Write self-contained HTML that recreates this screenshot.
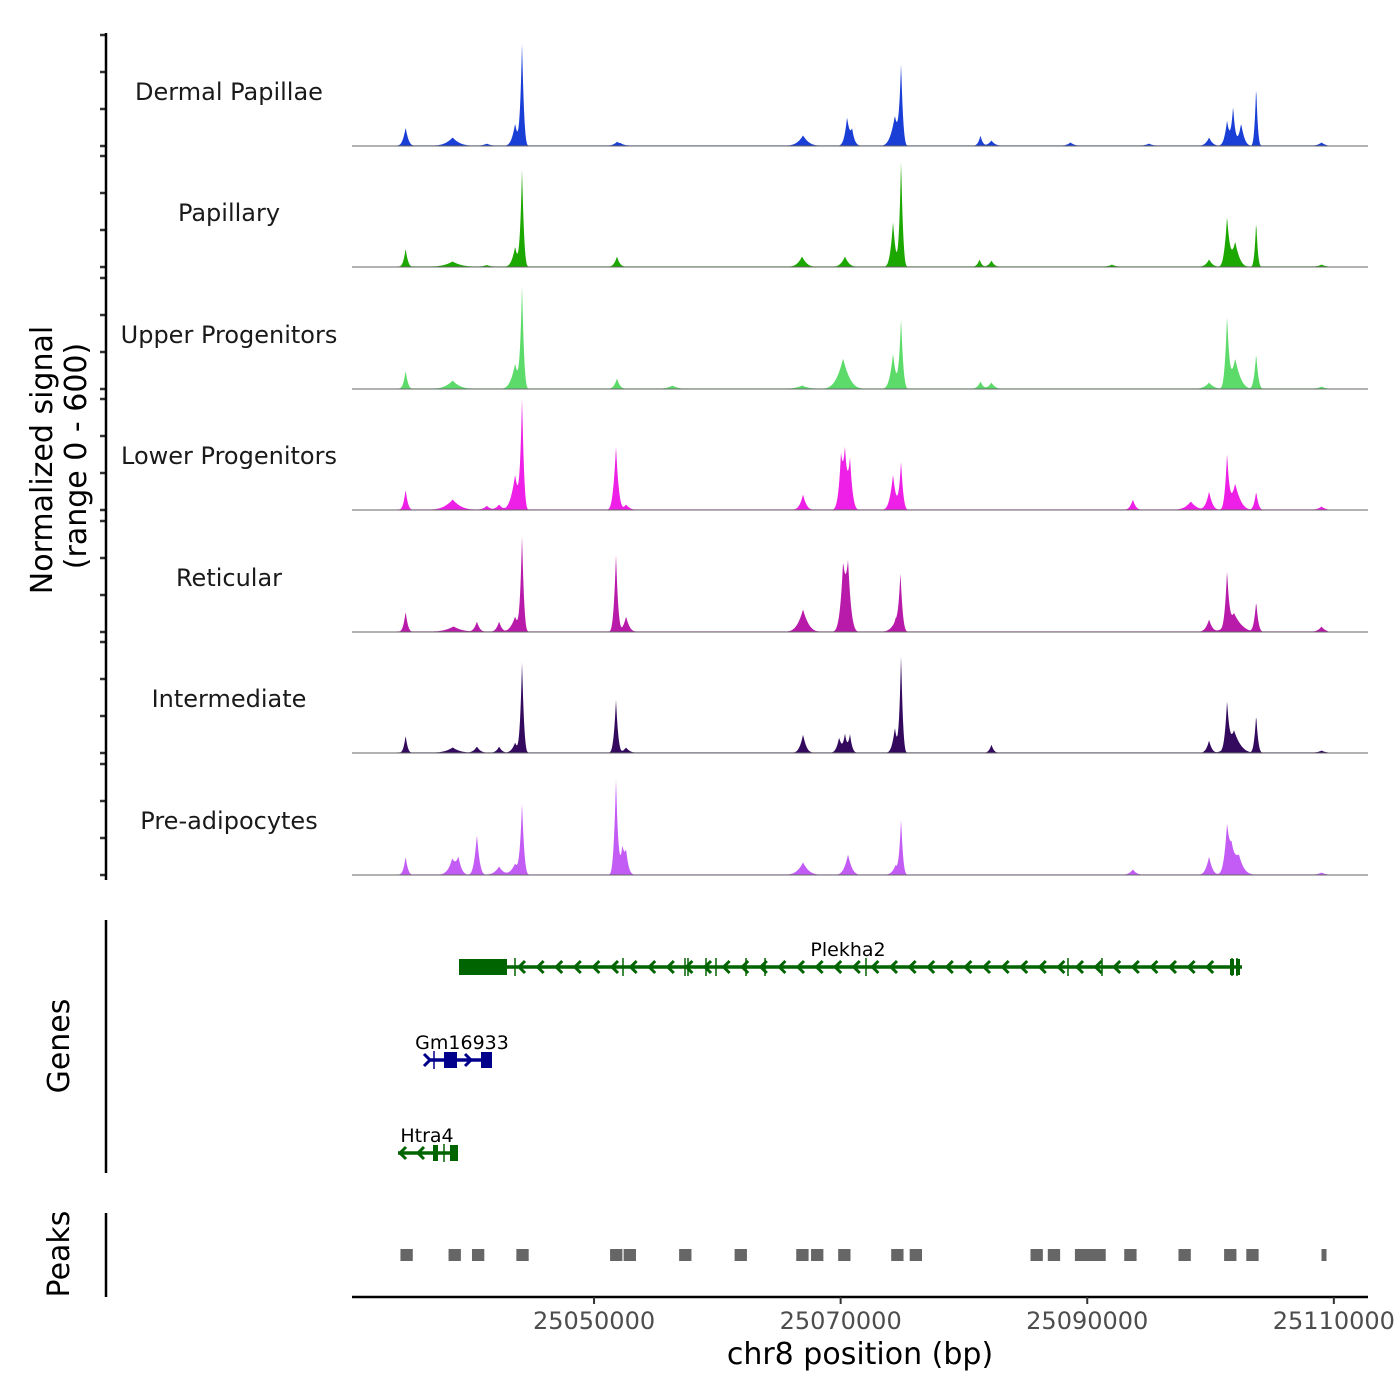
<!DOCTYPE html>
<html><head><meta charset="utf-8"><style>
body{margin:0;background:#fff}
svg{display:block;font-family:"DejaVu Sans","Liberation Sans",sans-serif}
</style></head><body>
<svg id="chart" width="1400" height="1400" viewBox="0 0 1400 1400" xmlns="http://www.w3.org/2000/svg">
<g id="tracks"></g>
<g id="genes"></g>
<g id="peaks"></g>
<g id="axes">
  <line x1="106" y1="33" x2="106" y2="880" stroke="#000" stroke-width="2.5"/>
  <line x1="106" y1="920" x2="106" y2="1173" stroke="#000" stroke-width="2.5"/>
  <line x1="106" y1="1213" x2="106" y2="1297" stroke="#000" stroke-width="2.5"/>
  <line x1="352" y1="1297" x2="1368" y2="1297" stroke="#000" stroke-width="2.5"/>
  <text x="0" y="0" transform="translate(52,460) rotate(-90)" text-anchor="middle" font-size="30">Normalized signal</text>
  <text x="0" y="0" transform="translate(86,456) rotate(-90)" text-anchor="middle" font-size="30">(range 0 - 600)</text>
  <text x="0" y="0" transform="translate(69,1046) rotate(-90)" text-anchor="middle" font-size="30">Genes</text>
  <text x="0" y="0" transform="translate(69,1254) rotate(-90)" text-anchor="middle" font-size="30">Peaks</text>
  <text x="860" y="1364" text-anchor="middle" font-size="30">chr8 position (bp)</text>
</g>
</svg>
<script>
const NS='http://www.w3.org/2000/svg';
const xDomain=[25030370,25112770];
const xTicks=[25050000,25070000,25090000,25110000];
const trackNames=['Dermal Papillae','Papillary','Upper Progenitors','Lower Progenitors','Reticular','Intermediate','Pre-adipocytes'];
const trackColors=['#1a3fd6','#1ca800','#5cdb6a','#ee1fe6','#b81aaa','#330a5e','#c35cf5'];
// peaks: [position bp, signal height (0-600), half-width bp]
const dpPeaks=[[25034720,97,250],[25038530,43,600],[25041300,10,300],[25043600,119,300],[25044160,551,180],[25051860,16,300],[25052140,8,400],[25066950,54,500],[25070520,146,250],[25070930,81,250],[25074400,162,400],[25074900,416,180],[25081340,54,200],[25082230,27,300],[25088640,16,300],[25095000,10,300],[25099880,43,300],[25101340,135,250],[25101830,205,200],[25102480,119,300],[25103700,324,150],[25109000,16,300]];
const papPeaks=[[25034720,97,200],[25038530,27,700],[25041300,8,300],[25043600,108,300],[25044160,524,180],[25051860,54,250],[25066870,54,400],[25070350,54,350],[25074250,243,250],[25074900,578,180],[25081260,38,200],[25082230,32,250],[25092000,10,300],[25099880,38,300],[25101340,259,250],[25102000,135,400],[25103700,248,150],[25109000,10,300]];
const upPeaks=[[25034720,97,200],[25038530,43,600],[25043600,135,400],[25044160,540,180],[25051860,54,250],[25056350,16,400],[25066870,16,500],[25070200,162,600],[25074250,189,300],[25074900,378,200],[25081340,38,250],[25082230,32,300],[25099880,32,400],[25101340,367,200],[25102000,162,500],[25103700,189,200],[25109000,10,300]];
const lowPeaks=[[25034720,108,200],[25038530,54,700],[25041300,20,300],[25042300,27,300],[25043600,189,400],[25044160,583,180],[25051780,340,250],[25052600,27,300],[25066950,81,300],[25070030,259,250],[25070350,270,250],[25070760,259,250],[25074250,189,300],[25074900,259,200],[25093700,54,250],[25098400,43,500],[25099880,97,300],[25101340,281,200],[25102000,140,500],[25103700,97,200],[25109000,16,300]];
const retPeaks=[[25034720,108,200],[25038600,27,700],[25040500,54,250],[25042300,54,250],[25043600,81,400],[25044160,508,180],[25051780,416,200],[25052600,81,300],[25066950,119,500],[25070200,324,300],[25070600,335,300],[25074850,302,200],[25074450,60,400],[25099880,65,300],[25101340,292,200],[25101900,100,700],[25103700,162,200],[25109000,27,300]];
const intPeaks=[[25034720,92,180],[25038530,27,600],[25040500,32,300],[25042300,32,250],[25043600,54,300],[25044160,491,180],[25051780,286,200],[25052600,27,300],[25066950,97,300],[25069880,81,250],[25070350,97,200],[25070760,97,200],[25074400,135,250],[25074900,529,170],[25082230,43,200],[25099880,65,250],[25101340,243,200],[25101900,120,600],[25103700,205,180],[25109000,10,300]];
const prePeaks=[[25034720,97,200],[25038500,81,400],[25039000,81,300],[25040500,216,250],[25042300,43,400],[25044160,378,200],[25043600,60,400],[25051780,513,200],[25052300,135,250],[25052600,108,250],[25066950,65,500],[25070600,108,350],[25074900,297,180],[25074450,50,300],[25093700,27,300],[25099880,97,300],[25101340,216,250],[25101700,135,500],[25102300,80,500],[25109000,10,300]];
const trackPeaks=[dpPeaks,papPeaks,upPeaks,lowPeaks,retPeaks,intPeaks,prePeaks];
const peakRegions=[[25034300,25035300],[25038200,25039200],[25040100,25041100],[25043700,25044700],[25051300,25052300],[25052400,25053400],[25056900,25057900],[25061400,25062400],[25066400,25067400],[25067600,25068600],[25069800,25070800],[25074100,25075100],[25075600,25076600],[25085400,25086400],[25086800,25087800],[25089000,25090000],[25089700,25090700],[25090500,25091500],[25093000,25094000],[25097400,25098400],[25101100,25102100],[25102900,25103900],[25109000,25109400]];

const X0=352,X1=1368;
function xs(bp){return X0+(bp-xDomain[0])/(xDomain[1]-xDomain[0])*(X1-X0);}
const baseY=[146,267,389,510,632,753,875];
function ys(v,i){return baseY[i]-v/600*111;}

const tg=document.getElementById('tracks');
function mk(tag,attrs,parent){const e=document.createElementNS(NS,tag);for(const k in attrs)e.setAttribute(k,attrs[k]);parent.appendChild(e);return e;}
trackNames.forEach((name,i)=>{
  const g=mk('g',{},tg);
  
  
  const pk=trackPeaks[i];
  let pts=[];
  for(let px=X0;px<=X1;px+=0.5){
    const bp=xDomain[0]+(px-X0)/(X1-X0)*(xDomain[1]-xDomain[0]);
    let v=0;
    if(bp>25034000&&bp<25109500)v=3;
    pk.forEach(p=>{const d=Math.abs(bp-p[0]);if(d<p[2]*3){const t=Math.max(0,1-d/(p[2]*3));v+=p[1]*Math.pow(t,3);}});
    pts.push(px.toFixed(1)+','+ys(Math.min(v,600),i).toFixed(1));
  }
  const poly=mk('polygon',{points:X0+','+baseY[i]+' '+pts.join(' ')+' '+X1+','+baseY[i],fill:trackColors[i]},g);
  
  
  const bl=mk('line',{x1:X0,x2:X1,y1:baseY[i],y2:baseY[i],stroke:'#666','stroke-width':1},g);
  
  
  const lab=mk('text',{x:229,y:baseY[i]-46,'text-anchor':'middle','font-size':24,fill:'#1a1a1a'},g);
  lab.textContent=name;
  
  
  for(let k=0;k<4;k++){
    const t=mk('line',{x1:100,x2:106,y1:baseY[i]-k*37,y2:baseY[i]-k*37,stroke:'#333','stroke-width':2.5},g);
    
    
  }
});

// peaks track
const pg=document.getElementById('peaks');
peakRegions.forEach(r=>{
  const a=xs(r[0]),b=xs(r[1]);
  const rc=mk('rect',{x:a,y:1249,width:Math.max(b-a,5),height:12,fill:'#666'},pg);
  
  
});

// x axis ticks
const ag=document.getElementById('axes');
xTicks.forEach(t=>{
  const x=xs(t);
  const l=mk('line',{x1:x,x2:x,y1:1297,y2:1304,stroke:'#333','stroke-width':2},ag);
  
  
  const tx=mk('text',{x:x,y:1329,'text-anchor':'middle','font-size':24,fill:'#4d4d4d'},ag);
  tx.textContent=t;
  
  
});

// genes (pixel layout of gene models)
const gg=document.getElementById('genes');
function gene(name,x0,x1,y,col,dir,exons,ticks,lx,ly,chev){
  const g=mk('g',{},gg);
  
  
  mk('line',{x1:x0,x2:x1,y1:y,y2:y,stroke:col,'stroke-width':3.5},g);
  exons.forEach(e=>mk('rect',{x:e[0],y:y-8,width:e[1]-e[0],height:16,fill:col},g));
  ticks.forEach(t=>mk('line',{x1:t,x2:t,y1:y-9,y2:y+9,stroke:col,'stroke-width':1.5},g));
  chev.forEach(c=>{const d=dir<0?6:-6;mk('polyline',{points:(c+d)+','+(y-6)+' '+c+','+y+' '+(c+d)+','+(y+6),fill:'none',stroke:col,'stroke-width':3},g);});
  const t=mk('text',{x:lx,y:ly,'text-anchor':'middle','font-size':19,fill:'#000'},g);
  t.textContent=name;
}
const chP=[];for(let c=519;c<1225;c+=18.6)chP.push(c);
gene('Plekha2',459,1242,967,'#006400',-1,[[459,507],[1230,1234],[1236,1240]],[515,623,685,688,706,716,746,765,866,1068,1102,1232,1237],848,956,chP);
gene('Gm16933',429,492,1060,'#00008b',1,[[444,457],[481,492]],[434],462,1049,[430,471]);
gene('Htra4',398,458,1153,'#006400',-1,[[433,438],[450,458]],[444],427,1142,[400,418]);
</script>
</body></html>
